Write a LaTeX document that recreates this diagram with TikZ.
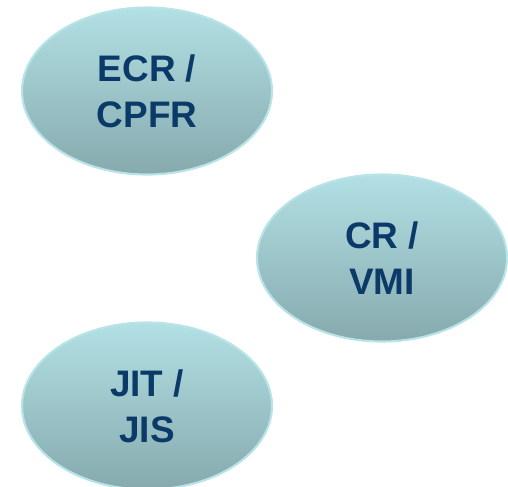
\documentclass[tikz,border=0pt]{standalone}
\usepackage{fontspec}
\setmainfont{Liberation Sans}
\usepackage{tikz}
\usepackage{xcolor}
\usetikzlibrary{shapes.geometric}
\usetikzlibrary{positioning}
\definecolor{ovaltop}{HTML}{B2E0E4}
\definecolor{ovalbottom}{HTML}{86AAAE}
\definecolor{ovalrim}{HTML}{B8E4E7}
\definecolor{ovaltext}{HTML}{0B3A68}
\tikzstyle{oval} = [ellipse, minimum width=5cm, minimum height=3.34cm, inner sep=0pt, draw=ovalrim, line width=1.2pt, top color=ovaltop, bottom color=ovalbottom, text=ovaltext, font=\fontsize{21}{26}\selectfont\bfseries, align=center]

\begin{document}
\begin{tikzpicture}[node distance=3.34cm]
        \useasboundingbox (0,0) rectangle (10.16,-9.72);
        \node (ecr) [oval] at (2.94,-1.82) {ECR /\\CPFR};
        \node (crvmi) [oval, below of=ecr, xshift=4.7cm] {CR /\\VMI};
        \node (jit) [oval, below of=crvmi, xshift=-4.7cm, yshift=0.38cm] {JIT /\\JIS};
\end{tikzpicture}
\end{document}
